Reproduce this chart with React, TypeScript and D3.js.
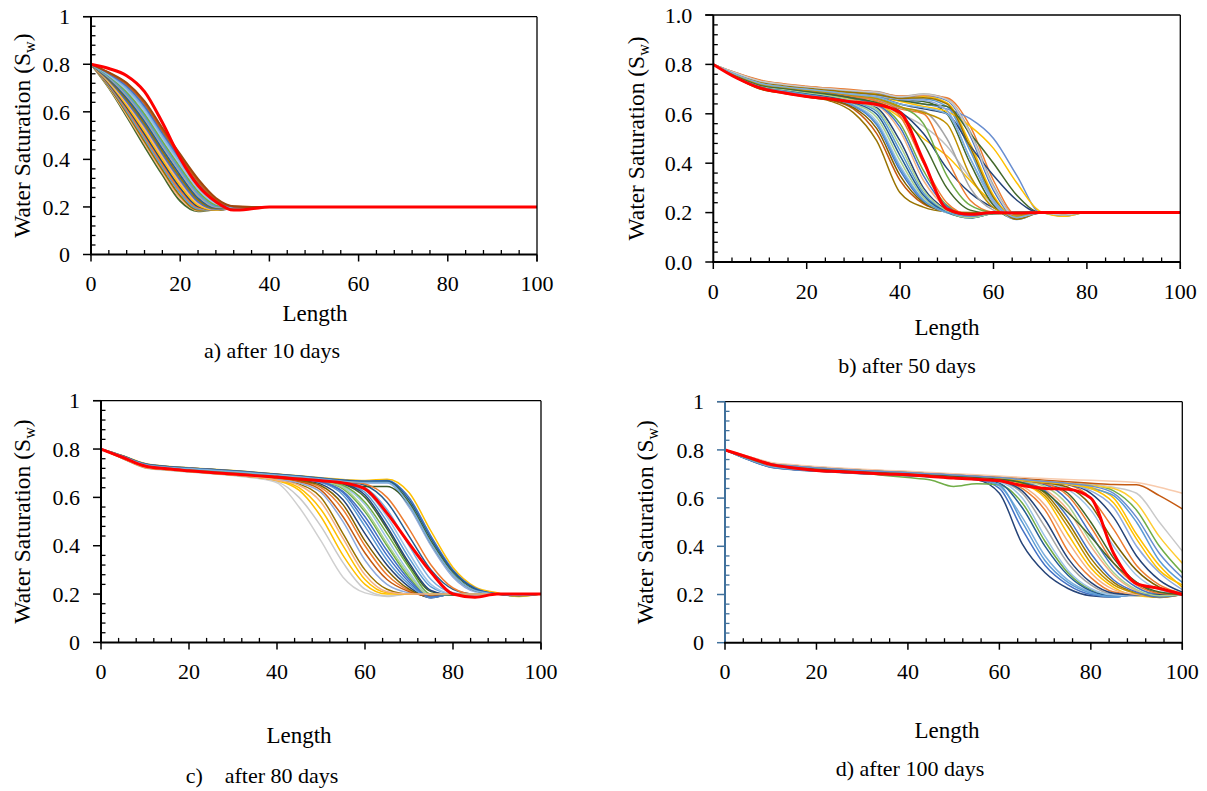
import React from "react";
import * as d3 from "d3";

// ---- shared axis definitions ----
const Y_TICKS = [0, 0.2, 0.4, 0.6, 0.8, 1];
const Y_LABELS_PLAIN = ["0", "0.2", "0.4", "0.6", "0.8", "1"];
const Y_LABELS_FIXED = ["0.0", "0.2", "0.4", "0.6", "0.8", "1.0"];
const X_TICKS = [0, 20, 40, 60, 80, 100];

// ---- a) after 10 days ----
const X_A = [0, 4, 8, 12, 16, 20, 24, 28, 32, 36, 40, 100];
const RUNS_A = [
  [0.8, 0.700, 0.580, 0.455, 0.335, 0.225, 0.182, 0.190, 0.200, 0.2, 0.2, 0.2],
  [0.8, 0.704, 0.588, 0.466, 0.346, 0.236, 0.185, 0.189, 0.199, 0.2, 0.2, 0.2],
  [0.8, 0.708, 0.596, 0.476, 0.357, 0.247, 0.188, 0.188, 0.198, 0.2, 0.2, 0.2],
  [0.8, 0.712, 0.604, 0.487, 0.368, 0.258, 0.192, 0.187, 0.197, 0.2, 0.2, 0.2],
  [0.8, 0.716, 0.612, 0.497, 0.379, 0.269, 0.197, 0.187, 0.196, 0.2, 0.2, 0.2],
  [0.8, 0.720, 0.620, 0.508, 0.390, 0.280, 0.202, 0.187, 0.195, 0.2, 0.2, 0.2],
  [0.8, 0.724, 0.628, 0.518, 0.401, 0.291, 0.208, 0.188, 0.195, 0.2, 0.2, 0.2],
  [0.8, 0.728, 0.636, 0.529, 0.412, 0.302, 0.215, 0.190, 0.195, 0.2, 0.2, 0.2],
  [0.8, 0.732, 0.644, 0.540, 0.423, 0.313, 0.222, 0.192, 0.196, 0.2, 0.2, 0.2],
  [0.8, 0.736, 0.652, 0.550, 0.434, 0.324, 0.230, 0.194, 0.196, 0.2, 0.2, 0.2],
  [0.8, 0.740, 0.660, 0.561, 0.445, 0.335, 0.238, 0.197, 0.197, 0.2, 0.2, 0.2],
  [0.8, 0.744, 0.668, 0.571, 0.456, 0.346, 0.247, 0.200, 0.197, 0.2, 0.2, 0.2],
  [0.8, 0.748, 0.676, 0.582, 0.467, 0.357, 0.256, 0.204, 0.198, 0.2, 0.2, 0.2],
  [0.8, 0.752, 0.684, 0.592, 0.478, 0.368, 0.266, 0.209, 0.198, 0.2, 0.2, 0.2],
  [0.8, 0.755, 0.692, 0.603, 0.489, 0.379, 0.276, 0.214, 0.199, 0.2, 0.2, 0.2],
  [0.8, 0.758, 0.700, 0.614, 0.500, 0.390, 0.287, 0.220, 0.200, 0.2, 0.2, 0.2],
  [0.8, 0.761, 0.708, 0.624, 0.511, 0.401, 0.298, 0.226, 0.201, 0.2, 0.2, 0.2],
  [0.8, 0.764, 0.716, 0.635, 0.522, 0.412, 0.309, 0.232, 0.202, 0.2, 0.2, 0.2],
  [0.8, 0.766, 0.722, 0.645, 0.532, 0.422, 0.318, 0.238, 0.203, 0.2, 0.2, 0.2],
];
const MEAN_A = [0.8, 0.782, 0.752, 0.685, 0.555, 0.405, 0.290, 0.222, 0.187, 0.192, 0.2, 0.2];
const COLORS_A = [
  "#43682B", "#F4B183", "#997300", "#5B9BD5", "#ED7D31", "#264478", "#FFC000",
  "#F4B183", "#4472C4", "#997300", "#255E91", "#A5A5A5", "#5B9BD5", "#70AD47",
  "#9DC3E6", "#7CAFDD", "#4472C4", "#C55A11", "#9E480E",
];

// ---- b) after 50 days ----
const X_B = [0, 5, 10, 15, 20, 25, 30, 35, 40, 45, 50, 55, 60, 65, 70, 75, 80, 100];
const RUNS_B = [
  [0.8, 0.745, 0.700, 0.683, 0.668, 0.652, 0.605, 0.490, 0.280, 0.222, 0.203, 0.200, 0.2, 0.2, 0.2, 0.2, 0.2, 0.2],
  [0.8, 0.746, 0.701, 0.684, 0.670, 0.656, 0.620, 0.520, 0.330, 0.235, 0.205, 0.195, 0.2, 0.2, 0.2, 0.2, 0.2, 0.2],
  [0.8, 0.748, 0.705, 0.690, 0.675, 0.660, 0.632, 0.555, 0.370, 0.245, 0.200, 0.185, 0.2, 0.2, 0.2, 0.2, 0.2, 0.2],
  [0.8, 0.750, 0.710, 0.695, 0.680, 0.665, 0.640, 0.585, 0.410, 0.260, 0.200, 0.180, 0.198, 0.2, 0.2, 0.2, 0.2, 0.2],
  [0.8, 0.750, 0.712, 0.698, 0.684, 0.670, 0.650, 0.610, 0.450, 0.280, 0.205, 0.178, 0.197, 0.2, 0.2, 0.2, 0.2, 0.2],
  [0.8, 0.752, 0.715, 0.700, 0.688, 0.675, 0.655, 0.625, 0.490, 0.300, 0.210, 0.180, 0.196, 0.2, 0.2, 0.2, 0.2, 0.2],
  [0.8, 0.753, 0.716, 0.702, 0.690, 0.678, 0.660, 0.635, 0.530, 0.330, 0.220, 0.185, 0.197, 0.2, 0.2, 0.2, 0.2, 0.2],
  [0.8, 0.755, 0.720, 0.705, 0.695, 0.683, 0.665, 0.640, 0.560, 0.370, 0.230, 0.190, 0.2, 0.2, 0.2, 0.2, 0.2, 0.2],
  [0.8, 0.750, 0.710, 0.698, 0.685, 0.672, 0.655, 0.630, 0.600, 0.550, 0.470, 0.340, 0.230, 0.190, 0.2, 0.2, 0.2, 0.2],
  [0.8, 0.752, 0.714, 0.700, 0.688, 0.676, 0.660, 0.640, 0.585, 0.500, 0.430, 0.330, 0.240, 0.195, 0.2, 0.2, 0.2, 0.2],
  [0.8, 0.755, 0.718, 0.705, 0.692, 0.680, 0.668, 0.660, 0.610, 0.520, 0.380, 0.280, 0.220, 0.190, 0.2, 0.2, 0.2, 0.2],
  [0.8, 0.755, 0.720, 0.705, 0.695, 0.685, 0.672, 0.655, 0.620, 0.600, 0.420, 0.250, 0.200, 0.192, 0.2, 0.2, 0.2, 0.2],
  [0.8, 0.757, 0.722, 0.708, 0.697, 0.688, 0.675, 0.660, 0.625, 0.610, 0.500, 0.300, 0.210, 0.190, 0.2, 0.2, 0.2, 0.2],
  [0.8, 0.758, 0.725, 0.710, 0.700, 0.690, 0.680, 0.670, 0.655, 0.650, 0.600, 0.400, 0.230, 0.175, 0.2, 0.190, 0.2, 0.2],
  [0.8, 0.760, 0.728, 0.713, 0.703, 0.693, 0.684, 0.675, 0.660, 0.660, 0.630, 0.450, 0.250, 0.172, 0.198, 0.188, 0.2, 0.2],
  [0.8, 0.762, 0.730, 0.716, 0.706, 0.696, 0.688, 0.680, 0.665, 0.670, 0.645, 0.480, 0.270, 0.175, 0.2, 0.190, 0.2, 0.2],
  [0.8, 0.763, 0.732, 0.718, 0.708, 0.700, 0.692, 0.685, 0.668, 0.675, 0.655, 0.510, 0.290, 0.180, 0.198, 0.2, 0.2, 0.2],
  [0.8, 0.765, 0.735, 0.720, 0.710, 0.702, 0.695, 0.690, 0.670, 0.680, 0.660, 0.530, 0.310, 0.185, 0.2, 0.185, 0.2, 0.2],
  [0.8, 0.765, 0.737, 0.722, 0.712, 0.704, 0.697, 0.688, 0.672, 0.675, 0.665, 0.550, 0.330, 0.190, 0.2, 0.2, 0.2, 0.2],
  [0.8, 0.758, 0.725, 0.710, 0.700, 0.690, 0.682, 0.675, 0.660, 0.640, 0.620, 0.580, 0.500, 0.350, 0.200, 0.190, 0.2, 0.2],
  [0.8, 0.756, 0.722, 0.708, 0.698, 0.688, 0.678, 0.668, 0.650, 0.630, 0.610, 0.550, 0.460, 0.320, 0.205, 0.185, 0.2, 0.2],
  [0.8, 0.757, 0.724, 0.710, 0.699, 0.689, 0.680, 0.672, 0.655, 0.640, 0.630, 0.520, 0.400, 0.270, 0.2, 0.195, 0.2, 0.2],
  [0.8, 0.754, 0.720, 0.706, 0.696, 0.686, 0.676, 0.668, 0.640, 0.620, 0.600, 0.470, 0.350, 0.250, 0.2, 0.2, 0.2, 0.2],
  [0.8, 0.747, 0.703, 0.687, 0.672, 0.658, 0.625, 0.540, 0.350, 0.240, 0.203, 0.190, 0.2, 0.2, 0.2, 0.2, 0.2, 0.2],
  [0.8, 0.749, 0.707, 0.692, 0.678, 0.663, 0.636, 0.570, 0.390, 0.252, 0.200, 0.183, 0.199, 0.2, 0.2, 0.2, 0.2, 0.2],
  [0.8, 0.751, 0.711, 0.697, 0.682, 0.668, 0.645, 0.598, 0.430, 0.270, 0.202, 0.179, 0.197, 0.2, 0.2, 0.2, 0.2, 0.2],
  [0.8, 0.752, 0.714, 0.699, 0.686, 0.673, 0.652, 0.618, 0.470, 0.290, 0.207, 0.179, 0.196, 0.2, 0.2, 0.2, 0.2, 0.2],
  [0.8, 0.754, 0.717, 0.703, 0.692, 0.680, 0.662, 0.638, 0.545, 0.350, 0.225, 0.187, 0.198, 0.2, 0.2, 0.2, 0.2, 0.2],
  [0.8, 0.756, 0.721, 0.706, 0.696, 0.686, 0.670, 0.650, 0.590, 0.400, 0.240, 0.192, 0.2, 0.2, 0.2, 0.2, 0.2, 0.2],
  [0.8, 0.757, 0.723, 0.709, 0.698, 0.689, 0.677, 0.662, 0.630, 0.560, 0.350, 0.230, 0.200, 0.195, 0.2, 0.2, 0.2, 0.2],
  [0.8, 0.759, 0.726, 0.711, 0.701, 0.691, 0.682, 0.672, 0.658, 0.655, 0.615, 0.420, 0.240, 0.173, 0.199, 0.189, 0.2, 0.2],
  [0.8, 0.761, 0.729, 0.714, 0.704, 0.694, 0.686, 0.678, 0.662, 0.665, 0.640, 0.465, 0.260, 0.173, 0.199, 0.190, 0.2, 0.2],
  [0.8, 0.764, 0.733, 0.719, 0.709, 0.701, 0.693, 0.687, 0.669, 0.678, 0.658, 0.520, 0.300, 0.182, 0.199, 0.190, 0.2, 0.2],
  [0.8, 0.748, 0.706, 0.691, 0.677, 0.662, 0.634, 0.560, 0.380, 0.250, 0.202, 0.186, 0.2, 0.2, 0.2, 0.2, 0.2, 0.2],
  [0.8, 0.753, 0.717, 0.703, 0.690, 0.678, 0.663, 0.645, 0.600, 0.480, 0.300, 0.210, 0.195, 0.2, 0.2, 0.2, 0.2, 0.2],
  [0.8, 0.756, 0.721, 0.707, 0.696, 0.686, 0.674, 0.662, 0.628, 0.605, 0.560, 0.350, 0.220, 0.185, 0.2, 0.2, 0.2, 0.2],
  [0.8, 0.758, 0.724, 0.709, 0.699, 0.689, 0.678, 0.668, 0.640, 0.625, 0.600, 0.420, 0.250, 0.180, 0.2, 0.2, 0.2, 0.2],
];
const MEAN_B = [0.8, 0.745, 0.705, 0.685, 0.670, 0.660, 0.648, 0.638, 0.605, 0.410, 0.215, 0.193, 0.2, 0.198, 0.2, 0.2, 0.2, 0.2];
const COLORS_B = [
  "#997300", "#C55A11", "#4472C4", "#A9D18E", "#5B9BD5", "#264478", "#F4B183", "#70AD47",
  "#BFBFBF", "#FFC000", "#264478", "#ED7D31", "#A5A5A5", "#43682B", "#5B9BD5", "#FFC000",
  "#4472C4", "#A5A5A5", "#ED7D31", "#698ED0", "#FFC000", "#43682B", "#264478",
  "#7F6000", "#9DC3E6", "#255E91", "#A9D18E", "#4472C4", "#ED7D31", "#70AD47",
  "#8FAADC", "#997300", "#C9C9C9", "#5B9BD5", "#43682B", "#BF9000", "#7CAFDD",
];

// ---- c) after 80 days ----
const X_C = [0, 5, 10, 15, 20, 25, 30, 35, 40, 45, 50, 55, 60, 65, 70, 75, 80, 85, 90, 95, 100];
const RUNS_C = [
  [0.8, 0.760, 0.722, 0.712, 0.705, 0.698, 0.690, 0.680, 0.660, 0.560, 0.420, 0.270, 0.205, 0.190, 0.2, 0.2, 0.2, 0.2, 0.2, 0.2, 0.2],
  [0.8, 0.760, 0.723, 0.713, 0.706, 0.700, 0.692, 0.682, 0.665, 0.600, 0.480, 0.330, 0.220, 0.192, 0.2, 0.2, 0.2, 0.2, 0.2, 0.2, 0.2],
  [0.8, 0.762, 0.726, 0.716, 0.709, 0.702, 0.695, 0.686, 0.672, 0.640, 0.550, 0.400, 0.260, 0.205, 0.2, 0.2, 0.2, 0.2, 0.2, 0.2, 0.2],
  [0.8, 0.761, 0.724, 0.714, 0.707, 0.700, 0.693, 0.684, 0.672, 0.655, 0.600, 0.450, 0.300, 0.220, 0.200, 0.2, 0.2, 0.2, 0.2, 0.2, 0.2],
  [0.8, 0.764, 0.728, 0.718, 0.711, 0.704, 0.697, 0.688, 0.674, 0.660, 0.620, 0.500, 0.340, 0.240, 0.205, 0.195, 0.2, 0.2, 0.2, 0.2, 0.2],
  [0.8, 0.763, 0.727, 0.717, 0.710, 0.703, 0.697, 0.690, 0.680, 0.668, 0.640, 0.550, 0.400, 0.280, 0.215, 0.190, 0.2, 0.2, 0.2, 0.2, 0.2],
  [0.8, 0.765, 0.730, 0.720, 0.713, 0.707, 0.700, 0.692, 0.684, 0.672, 0.655, 0.590, 0.450, 0.320, 0.230, 0.185, 0.2, 0.2, 0.2, 0.2, 0.2],
  [0.8, 0.766, 0.731, 0.720, 0.714, 0.708, 0.702, 0.694, 0.686, 0.676, 0.662, 0.620, 0.500, 0.360, 0.250, 0.185, 0.2, 0.2, 0.2, 0.2, 0.2],
  [0.8, 0.766, 0.732, 0.721, 0.715, 0.709, 0.703, 0.696, 0.688, 0.678, 0.666, 0.635, 0.540, 0.400, 0.270, 0.190, 0.2, 0.2, 0.2, 0.2, 0.2],
  [0.8, 0.767, 0.733, 0.722, 0.716, 0.710, 0.704, 0.697, 0.689, 0.680, 0.668, 0.645, 0.570, 0.430, 0.290, 0.195, 0.198, 0.2, 0.2, 0.2, 0.2],
  [0.8, 0.768, 0.734, 0.723, 0.717, 0.711, 0.705, 0.698, 0.690, 0.681, 0.670, 0.655, 0.600, 0.470, 0.320, 0.210, 0.195, 0.2, 0.2, 0.2, 0.2],
  [0.8, 0.768, 0.735, 0.724, 0.718, 0.712, 0.706, 0.699, 0.691, 0.682, 0.672, 0.660, 0.620, 0.500, 0.350, 0.230, 0.200, 0.195, 0.2, 0.2, 0.2],
  [0.8, 0.769, 0.736, 0.725, 0.719, 0.713, 0.707, 0.700, 0.692, 0.683, 0.674, 0.664, 0.640, 0.550, 0.400, 0.260, 0.205, 0.195, 0.2, 0.2, 0.2],
  [0.8, 0.770, 0.737, 0.726, 0.720, 0.714, 0.708, 0.701, 0.693, 0.684, 0.675, 0.666, 0.650, 0.580, 0.440, 0.300, 0.220, 0.200, 0.2, 0.2, 0.2],
  [0.8, 0.770, 0.738, 0.727, 0.721, 0.715, 0.709, 0.702, 0.695, 0.687, 0.678, 0.670, 0.665, 0.665, 0.580, 0.420, 0.290, 0.220, 0.200, 0.192, 0.2],
  [0.8, 0.772, 0.740, 0.729, 0.723, 0.717, 0.711, 0.704, 0.697, 0.689, 0.681, 0.674, 0.670, 0.675, 0.620, 0.460, 0.310, 0.230, 0.205, 0.190, 0.2],
  [0.8, 0.771, 0.739, 0.728, 0.722, 0.716, 0.710, 0.703, 0.696, 0.688, 0.680, 0.672, 0.668, 0.670, 0.600, 0.440, 0.300, 0.225, 0.200, 0.195, 0.2],
  [0.8, 0.769, 0.737, 0.726, 0.720, 0.714, 0.708, 0.701, 0.694, 0.686, 0.677, 0.668, 0.660, 0.660, 0.560, 0.400, 0.270, 0.210, 0.200, 0.2, 0.2],
  [0.8, 0.768, 0.735, 0.724, 0.718, 0.712, 0.706, 0.699, 0.690, 0.680, 0.668, 0.655, 0.645, 0.645, 0.570, 0.410, 0.280, 0.215, 0.200, 0.2, 0.2],
  [0.8, 0.762, 0.725, 0.715, 0.708, 0.701, 0.694, 0.685, 0.670, 0.630, 0.520, 0.360, 0.240, 0.200, 0.2, 0.2, 0.2, 0.2, 0.2, 0.2, 0.2],
  [0.8, 0.764, 0.729, 0.719, 0.712, 0.706, 0.699, 0.691, 0.682, 0.670, 0.648, 0.570, 0.420, 0.300, 0.220, 0.188, 0.2, 0.2, 0.2, 0.2, 0.2],
  [0.8, 0.765, 0.731, 0.720, 0.714, 0.708, 0.701, 0.694, 0.686, 0.676, 0.662, 0.610, 0.480, 0.340, 0.240, 0.186, 0.2, 0.2, 0.2, 0.2, 0.2],
  [0.8, 0.767, 0.733, 0.722, 0.716, 0.710, 0.704, 0.697, 0.689, 0.680, 0.668, 0.640, 0.550, 0.410, 0.280, 0.192, 0.199, 0.2, 0.2, 0.2, 0.2],
  [0.8, 0.768, 0.735, 0.724, 0.718, 0.712, 0.706, 0.699, 0.691, 0.682, 0.671, 0.657, 0.610, 0.480, 0.330, 0.215, 0.196, 0.2, 0.2, 0.2, 0.2],
  [0.8, 0.769, 0.736, 0.725, 0.719, 0.713, 0.707, 0.700, 0.692, 0.683, 0.673, 0.662, 0.630, 0.520, 0.370, 0.240, 0.200, 0.195, 0.2, 0.2, 0.2],
  [0.8, 0.770, 0.738, 0.727, 0.721, 0.715, 0.709, 0.702, 0.694, 0.685, 0.676, 0.667, 0.655, 0.600, 0.470, 0.320, 0.225, 0.198, 0.2, 0.2, 0.2],
  [0.8, 0.763, 0.728, 0.718, 0.711, 0.704, 0.698, 0.690, 0.680, 0.666, 0.630, 0.520, 0.370, 0.260, 0.210, 0.192, 0.2, 0.2, 0.2, 0.2, 0.2],
  [0.8, 0.766, 0.732, 0.721, 0.715, 0.709, 0.703, 0.695, 0.687, 0.678, 0.665, 0.625, 0.520, 0.380, 0.260, 0.188, 0.2, 0.2, 0.2, 0.2, 0.2],
  [0.8, 0.767, 0.734, 0.723, 0.717, 0.711, 0.705, 0.698, 0.690, 0.681, 0.670, 0.650, 0.580, 0.450, 0.310, 0.200, 0.197, 0.2, 0.2, 0.2, 0.2],
  [0.8, 0.771, 0.739, 0.728, 0.722, 0.716, 0.710, 0.703, 0.696, 0.688, 0.679, 0.671, 0.666, 0.668, 0.590, 0.430, 0.295, 0.222, 0.2, 0.193, 0.2],
  [0.8, 0.769, 0.736, 0.725, 0.719, 0.713, 0.707, 0.700, 0.693, 0.685, 0.676, 0.667, 0.662, 0.662, 0.570, 0.410, 0.280, 0.215, 0.2, 0.195, 0.2],
  [0.8, 0.761, 0.724, 0.714, 0.707, 0.700, 0.693, 0.684, 0.671, 0.650, 0.580, 0.430, 0.280, 0.210, 0.2, 0.2, 0.2, 0.2, 0.2, 0.2, 0.2],
];
const MEAN_C = [0.8, 0.765, 0.730, 0.718, 0.710, 0.703, 0.697, 0.690, 0.684, 0.676, 0.669, 0.660, 0.635, 0.535, 0.410, 0.290, 0.200, 0.187, 0.200, 0.2, 0.2];
const COLORS_C = [
  "#D0D0D0", "#C9C9C9", "#FFC000", "#997300", "#8FAADC", "#ED7D31", "#264478", "#4472C4",
  "#70AD47", "#9DC3E6", "#43682B", "#5B9BD5", "#7CAFDD", "#255E91", "#43682B", "#FFC000",
  "#4472C4", "#8FAADC", "#385723", "#FFC000",
  "#7F6000", "#5B9BD5", "#A9D18E", "#264478", "#9DC3E6", "#ED7D31", "#C55A11", "#4472C4",
  "#70AD47", "#255E91", "#7CAFDD", "#F4B183",
];

// ---- d) after 100 days ----
const X_D = [0, 5, 10, 15, 20, 25, 30, 35, 40, 45, 50, 55, 60, 65, 70, 75, 80, 85, 90, 95, 100];
const RUNS_D = [
  [0.8, 0.760, 0.728, 0.718, 0.712, 0.706, 0.701, 0.697, 0.693, 0.688, 0.683, 0.676, 0.620, 0.410, 0.290, 0.225, 0.195, 0.190, 0.200, 0.205, 0.200],
  [0.8, 0.761, 0.729, 0.719, 0.713, 0.707, 0.702, 0.698, 0.694, 0.689, 0.684, 0.678, 0.640, 0.470, 0.320, 0.240, 0.200, 0.190, 0.200, 0.2, 0.2],
  [0.8, 0.762, 0.730, 0.720, 0.714, 0.708, 0.703, 0.699, 0.695, 0.690, 0.685, 0.679, 0.650, 0.520, 0.360, 0.260, 0.210, 0.192, 0.200, 0.2, 0.2],
  [0.8, 0.765, 0.736, 0.726, 0.719, 0.712, 0.703, 0.694, 0.685, 0.675, 0.648, 0.660, 0.655, 0.580, 0.420, 0.290, 0.220, 0.200, 0.2, 0.2, 0.2],
  [0.8, 0.764, 0.734, 0.724, 0.717, 0.711, 0.706, 0.701, 0.697, 0.692, 0.687, 0.681, 0.670, 0.620, 0.480, 0.330, 0.240, 0.200, 0.195, 0.2, 0.2],
  [0.8, 0.766, 0.737, 0.727, 0.720, 0.714, 0.709, 0.704, 0.700, 0.695, 0.690, 0.684, 0.674, 0.640, 0.550, 0.380, 0.270, 0.210, 0.200, 0.195, 0.2],
  [0.8, 0.767, 0.738, 0.728, 0.721, 0.715, 0.710, 0.705, 0.701, 0.696, 0.691, 0.686, 0.677, 0.660, 0.600, 0.450, 0.310, 0.230, 0.195, 0.190, 0.2],
  [0.8, 0.767, 0.739, 0.729, 0.722, 0.716, 0.711, 0.706, 0.702, 0.697, 0.692, 0.687, 0.679, 0.666, 0.620, 0.500, 0.350, 0.250, 0.205, 0.188, 0.2],
  [0.8, 0.768, 0.740, 0.730, 0.723, 0.717, 0.712, 0.707, 0.703, 0.698, 0.693, 0.688, 0.680, 0.668, 0.635, 0.550, 0.400, 0.280, 0.215, 0.190, 0.2],
  [0.8, 0.766, 0.737, 0.727, 0.720, 0.714, 0.709, 0.704, 0.700, 0.695, 0.690, 0.685, 0.677, 0.668, 0.655, 0.590, 0.450, 0.310, 0.230, 0.200, 0.2],
  [0.8, 0.768, 0.740, 0.730, 0.723, 0.717, 0.712, 0.707, 0.703, 0.698, 0.693, 0.688, 0.681, 0.671, 0.660, 0.620, 0.500, 0.350, 0.250, 0.205, 0.2],
  [0.8, 0.769, 0.741, 0.731, 0.724, 0.718, 0.713, 0.708, 0.704, 0.699, 0.694, 0.689, 0.682, 0.672, 0.662, 0.635, 0.550, 0.400, 0.280, 0.220, 0.2],
  [0.8, 0.770, 0.742, 0.732, 0.725, 0.719, 0.714, 0.709, 0.705, 0.700, 0.695, 0.690, 0.683, 0.674, 0.665, 0.655, 0.600, 0.470, 0.320, 0.240, 0.205],
  [0.8, 0.768, 0.740, 0.730, 0.723, 0.717, 0.712, 0.707, 0.703, 0.698, 0.693, 0.688, 0.681, 0.672, 0.664, 0.656, 0.620, 0.520, 0.360, 0.260, 0.210],
  [0.8, 0.771, 0.743, 0.733, 0.726, 0.720, 0.715, 0.710, 0.706, 0.701, 0.696, 0.691, 0.684, 0.676, 0.668, 0.660, 0.645, 0.600, 0.450, 0.320, 0.230],
  [0.8, 0.770, 0.742, 0.732, 0.725, 0.719, 0.714, 0.709, 0.705, 0.700, 0.695, 0.690, 0.684, 0.676, 0.669, 0.662, 0.655, 0.630, 0.550, 0.400, 0.290],
  [0.8, 0.772, 0.744, 0.734, 0.727, 0.721, 0.716, 0.711, 0.707, 0.702, 0.697, 0.692, 0.686, 0.678, 0.670, 0.664, 0.658, 0.645, 0.620, 0.500, 0.380],
  [0.8, 0.773, 0.746, 0.736, 0.729, 0.723, 0.718, 0.713, 0.709, 0.704, 0.699, 0.694, 0.688, 0.681, 0.674, 0.668, 0.662, 0.656, 0.655, 0.610, 0.555],
  [0.8, 0.774, 0.748, 0.738, 0.731, 0.725, 0.720, 0.715, 0.711, 0.706, 0.701, 0.697, 0.692, 0.686, 0.681, 0.677, 0.674, 0.670, 0.665, 0.645, 0.620],
  [0.8, 0.771, 0.743, 0.733, 0.726, 0.720, 0.715, 0.710, 0.706, 0.701, 0.696, 0.691, 0.685, 0.677, 0.669, 0.662, 0.652, 0.640, 0.580, 0.440, 0.330],
  [0.8, 0.769, 0.741, 0.731, 0.724, 0.718, 0.713, 0.708, 0.704, 0.699, 0.694, 0.689, 0.682, 0.673, 0.665, 0.658, 0.640, 0.610, 0.500, 0.340, 0.250],
  [0.8, 0.763, 0.731, 0.721, 0.715, 0.709, 0.704, 0.700, 0.696, 0.691, 0.686, 0.680, 0.662, 0.560, 0.400, 0.280, 0.215, 0.195, 0.2, 0.2, 0.2],
  [0.8, 0.762, 0.730, 0.720, 0.714, 0.708, 0.703, 0.698, 0.694, 0.689, 0.684, 0.678, 0.655, 0.500, 0.340, 0.250, 0.205, 0.190, 0.2, 0.2, 0.2],
  [0.8, 0.764, 0.733, 0.723, 0.716, 0.710, 0.705, 0.700, 0.696, 0.691, 0.686, 0.680, 0.668, 0.600, 0.440, 0.300, 0.225, 0.198, 0.195, 0.2, 0.2],
  [0.8, 0.765, 0.735, 0.725, 0.718, 0.712, 0.707, 0.702, 0.698, 0.693, 0.688, 0.682, 0.672, 0.630, 0.510, 0.350, 0.250, 0.205, 0.198, 0.2, 0.2],
  [0.8, 0.766, 0.736, 0.726, 0.719, 0.713, 0.708, 0.703, 0.699, 0.694, 0.689, 0.683, 0.675, 0.650, 0.570, 0.420, 0.290, 0.220, 0.2, 0.192, 0.2],
  [0.8, 0.767, 0.738, 0.728, 0.721, 0.715, 0.710, 0.705, 0.701, 0.696, 0.691, 0.686, 0.678, 0.663, 0.610, 0.480, 0.330, 0.240, 0.205, 0.190, 0.2],
  [0.8, 0.768, 0.739, 0.729, 0.722, 0.716, 0.711, 0.706, 0.702, 0.697, 0.692, 0.687, 0.680, 0.667, 0.630, 0.520, 0.370, 0.260, 0.210, 0.190, 0.2],
  [0.8, 0.768, 0.740, 0.730, 0.723, 0.717, 0.712, 0.707, 0.703, 0.698, 0.693, 0.688, 0.681, 0.670, 0.648, 0.570, 0.420, 0.290, 0.220, 0.195, 0.2],
  [0.8, 0.769, 0.741, 0.731, 0.724, 0.718, 0.713, 0.708, 0.704, 0.699, 0.694, 0.689, 0.682, 0.672, 0.660, 0.610, 0.480, 0.330, 0.240, 0.205, 0.2],
  [0.8, 0.770, 0.742, 0.732, 0.725, 0.719, 0.714, 0.709, 0.705, 0.700, 0.695, 0.690, 0.683, 0.674, 0.664, 0.645, 0.570, 0.420, 0.300, 0.230, 0.2],
  [0.8, 0.770, 0.742, 0.732, 0.725, 0.719, 0.714, 0.709, 0.705, 0.700, 0.695, 0.690, 0.683, 0.675, 0.667, 0.658, 0.630, 0.560, 0.400, 0.290, 0.220],
  [0.8, 0.769, 0.741, 0.731, 0.724, 0.718, 0.713, 0.708, 0.704, 0.699, 0.694, 0.689, 0.682, 0.674, 0.666, 0.657, 0.640, 0.580, 0.430, 0.300, 0.240],
  [0.8, 0.767, 0.738, 0.728, 0.721, 0.715, 0.710, 0.705, 0.701, 0.696, 0.691, 0.686, 0.678, 0.664, 0.625, 0.540, 0.440, 0.330, 0.250, 0.210, 0.2],
  [0.8, 0.771, 0.743, 0.733, 0.726, 0.720, 0.715, 0.710, 0.706, 0.701, 0.696, 0.691, 0.685, 0.677, 0.669, 0.661, 0.650, 0.620, 0.520, 0.370, 0.270],
];
const MEAN_D = [0.8, 0.770, 0.740, 0.725, 0.715, 0.710, 0.705, 0.700, 0.697, 0.690, 0.683, 0.678, 0.672, 0.652, 0.640, 0.637, 0.600, 0.370, 0.245, 0.225, 0.200];
const COLORS_D = [
  "#264478", "#4472C4", "#7CAFDD", "#70AD47", "#A5A5A5", "#ED7D31", "#FFC000", "#997300",
  "#F4B183", "#4472C4", "#43682B", "#9DC3E6", "#ED7D31", "#264478", "#FFC000", "#70AD47",
  "#C9C9C9", "#C55A11", "#F8CBAD", "#FFCD33", "#5B9BD5", "#255E91",
  "#5B9BD5", "#9DC3E6", "#264478", "#F4B183", "#BF9000", "#4472C4", "#A9D18E", "#ED7D31",
  "#7F6000", "#8FAADC", "#FFC000", "#43682B", "#698ED0",
];

const FONT = "'Liberation Serif', 'Times New Roman', serif";

type PanelProps = {
  id: string;
  left: number;
  right: number;
  top: number;
  bottom: number;
  xs: number[];
  runs: number[][];
  colors: string[];
  mean: number[];
  yLabels: string[];
  runWidth: number;
  yAxisColor: string;
  yTitleX: number;
  lengthX: number;
  lengthY: number;
  caption: string;
  captionX: number;
  captionY: number;
};

function Panel(p: PanelProps) {
  const x = d3.scaleLinear().domain([0, 100]).range([p.left, p.right]);
  const y = d3.scaleLinear().domain([0, 1]).range([p.bottom, p.top]);
  const line = d3
    .line<number>()
    .x((_, i) => x(p.xs[i]))
    .y((d) => y(d))
    .curve(d3.curveMonotoneX);

  const minorY = d3.range(0, 26).filter((i) => i % 5 !== 0).map((i) => i * 0.04);
  const minorX = d3.range(0, 26).filter((i) => i % 5 !== 0).map((i) => i * 4);
  const midY = (p.top + p.bottom) / 2;

  return (
    <g>
      <defs>
        <clipPath id={`clip-${p.id}`}>
          <rect x={p.left} y={p.top} width={p.right - p.left} height={p.bottom - p.top} />
        </clipPath>
      </defs>
      <g clipPath={`url(#clip-${p.id})`} fill="none">
        {p.runs.map((r, i) => (
          <path key={i} d={line(r) || ""} stroke={p.colors[i % p.colors.length]} strokeWidth={p.runWidth} />
        ))}
        <path d={line(p.mean) || ""} stroke="#FF0000" strokeWidth={3} />
      </g>

      {/* frame: top and right edges */}
      <line x1={p.left - 8} x2={p.right} y1={p.top} y2={p.top} stroke="#000" strokeWidth={1.3} />
      <line x1={p.right} x2={p.right} y1={p.top} y2={p.bottom + 7} stroke="#000" strokeWidth={1.3} />

      {/* y axis */}
      <line x1={p.left} x2={p.left} y1={p.top} y2={p.bottom} stroke={p.yAxisColor} strokeWidth={2} />
      {Y_TICKS.map((t) => (
        <line key={`ym${t}`} x1={p.left - 8} x2={p.left} y1={y(t)} y2={y(t)} stroke={p.yAxisColor} strokeWidth={1.5} />
      ))}
      {minorY.map((t) => (
        <line key={`yn${t}`} x1={p.left} x2={p.left + 4.5} y1={y(t)} y2={y(t)} stroke={p.yAxisColor} strokeWidth={1.3} />
      ))}
      {Y_TICKS.map((t, i) => (
        <text key={`yl${t}`} x={p.left - 21} y={y(t)} dy="0.35em" textAnchor="end" fontSize={22} fontFamily={FONT} fill="#000">
          {p.yLabels[i]}
        </text>
      ))}

      {/* x axis */}
      <line x1={p.left - 1} x2={p.right} y1={p.bottom} y2={p.bottom} stroke="#000" strokeWidth={2} />
      {X_TICKS.map((t) => (
        <line key={`xm${t}`} x1={x(t)} x2={x(t)} y1={p.bottom} y2={p.bottom + 7} stroke="#000" strokeWidth={1.5} />
      ))}
      {minorX.map((t) => (
        <line key={`xn${t}`} x1={x(t)} x2={x(t)} y1={p.bottom} y2={p.bottom - 4.5} stroke="#000" strokeWidth={1.3} />
      ))}
      {X_TICKS.map((t) => (
        <text key={`xl${t}`} x={x(t)} y={p.bottom + 29} dy="0.35em" textAnchor="middle" fontSize={22} fontFamily={FONT} fill="#000">
          {t}
        </text>
      ))}

      {/* titles */}
      <text
        transform={`translate(${p.yTitleX},${midY}) rotate(-90)`}
        textAnchor="middle"
        dy="0.35em"
        fontSize={23.5}
        fontFamily={FONT}
        fill="#000"
      >
        <tspan>Water Saturation (S</tspan>
        <tspan fontSize={16} dy={5}>w</tspan>
        <tspan dy={-5}>)</tspan>
      </text>
      <text x={p.lengthX} y={p.lengthY} dy="0.35em" textAnchor="middle" fontSize={23} fontFamily={FONT} fill="#000">
        Length
      </text>
      <text
        x={p.captionX}
        y={p.captionY}
        dy="0.35em"
        textAnchor="middle"
        fontSize={22}
        fontFamily={FONT}
        fill="#000"
        style={{ whiteSpace: "pre" }}
      >
        {p.caption}
      </text>
    </g>
  );
}

export default function App() {
  return (
    <svg
      width={1207}
      height={791}
      viewBox="0 0 1207 791"
      style={{ position: "absolute", left: 0, top: 0, background: "#fff" }}
    >
      <rect x={0} y={0} width={1207} height={791} fill="#fff" />
      <Panel
        id="a" left={91} right={537} top={16.7} bottom={254.5}
        xs={X_A} runs={RUNS_A} colors={COLORS_A} mean={MEAN_A}
        yLabels={Y_LABELS_PLAIN} runWidth={1.9} yAxisColor="#000"
        yTitleX={22} lengthX={315} lengthY={313}
        caption="a) after 10 days" captionX={272} captionY={350}
      />
      <Panel
        id="b" left={713.3} right={1180.3} top={15} bottom={262}
        xs={X_B} runs={RUNS_B} colors={COLORS_B} mean={MEAN_B}
        yLabels={Y_LABELS_FIXED} runWidth={1.5} yAxisColor="#000"
        yTitleX={636} lengthX={947} lengthY={327}
        caption="b) after 50 days" captionX={907} captionY={365}
      />
      <Panel
        id="c" left={101} right={541} top={400.7} bottom={642.4}
        xs={X_C} runs={RUNS_C} colors={COLORS_C} mean={MEAN_C}
        yLabels={Y_LABELS_PLAIN} runWidth={1.5} yAxisColor="#000"
        yTitleX={22} lengthX={299} lengthY={735}
        caption="c)    after 80 days" captionX={262} captionY={775}
      />
      <Panel
        id="d" left={725} right={1182.3} top={401.7} bottom={642.7}
        xs={X_D} runs={RUNS_D} colors={COLORS_D} mean={MEAN_D}
        yLabels={Y_LABELS_PLAIN} runWidth={1.5} yAxisColor="#41719C"
        yTitleX={645} lengthX={947} lengthY={730}
        caption="d) after 100 days" captionX={910} captionY={768}
      />
    </svg>
  );
}
